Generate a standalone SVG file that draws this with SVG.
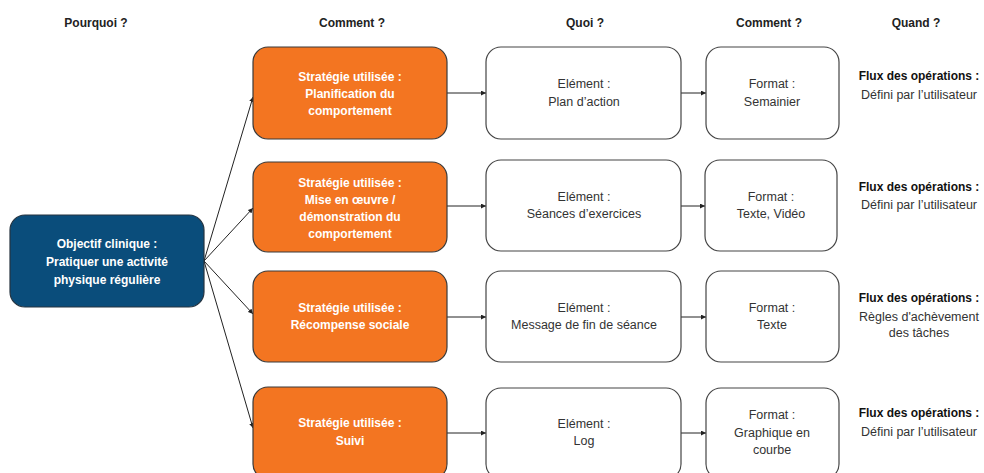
<svg xmlns="http://www.w3.org/2000/svg" width="984" height="473" viewBox="0 0 984 473">
<style>
text{font-family:"Liberation Sans",Arial,sans-serif;text-anchor:middle}
.h{font-size:12px;font-weight:bold;fill:#222}
.w{font-size:12px;font-weight:bold;fill:#fff}
.r{font-size:12.5px;fill:#333}
.rb{font-size:12px;font-weight:bold;fill:#111}
.blue{fill:#0a4d7b;stroke:#263440;stroke-width:1.2}
.or{fill:#f37521;stroke:#3a3a3a;stroke-width:1.2}
.wh{fill:#fff;stroke:#444;stroke-width:1.2}
.c{stroke:#222;stroke-width:1;fill:none;marker-end:url(#a)}
</style>
<defs>
<marker id="a" viewBox="0 0 6 6" refX="6" refY="3" markerWidth="5" markerHeight="5" orient="auto" markerUnits="userSpaceOnUse">
<path d="M0,0 L6,3 L0,6 z" fill="#222"/>
</marker>
</defs>
<rect width="984" height="473" fill="#fff"/>
<g id="headers">
<text class="h" x="96" y="27">Pourquoi ?</text>
<text class="h" x="352" y="27">Comment ?</text>
<text class="h" x="585" y="27">Quoi ?</text>
<text class="h" x="769" y="27">Comment ?</text>
<text class="h" x="916" y="27">Quand ?</text>
</g>
<g id="connectors">
<line class="c" x1="204" y1="261" x2="253" y2="97"/>
<line class="c" x1="204" y1="261" x2="253" y2="208"/>
<line class="c" x1="204" y1="261" x2="253" y2="314"/>
<line class="c" x1="204" y1="261" x2="253" y2="428"/>
<line class="c" x1="447" y1="93" x2="486" y2="93"/>
<line class="c" x1="447" y1="206" x2="486" y2="206"/>
<line class="c" x1="447" y1="317" x2="486" y2="317"/>
<line class="c" x1="447" y1="433" x2="486" y2="433"/>
<line class="c" x1="681" y1="93" x2="706" y2="93"/>
<line class="c" x1="681" y1="206" x2="705" y2="206"/>
<line class="c" x1="681" y1="317" x2="706" y2="317"/>
<line class="c" x1="681" y1="433" x2="706" y2="433"/>
</g>
<g id="objectif">
<rect class="blue" x="10" y="215" width="194" height="92" rx="15"/>
<text class="w" x="107" y="248">Objectif clinique :</text>
<text class="w" x="107" y="266">Pratiquer une activité</text>
<text class="w" x="107" y="284">physique régulière</text>
</g>
<g id="strat1">
<rect class="or" x="253" y="47" width="194" height="92" rx="15"/>
<text class="w" x="350" y="81">Stratégie utilisée :</text>
<text class="w" x="350" y="98">Planification du</text>
<text class="w" x="350" y="115">comportement</text>
</g>
<g id="strat2">
<rect class="or" x="253" y="162" width="194" height="90" rx="15"/>
<text class="w" x="350" y="187">Stratégie utilisée :</text>
<text class="w" x="350" y="204">Mise en œuvre /</text>
<text class="w" x="350" y="221">démonstration du</text>
<text class="w" x="350" y="238">comportement</text>
</g>
<g id="strat3">
<rect class="or" x="253" y="271" width="194" height="91" rx="15"/>
<text class="w" x="350" y="312">Stratégie utilisée :</text>
<text class="w" x="350" y="329">Récompense sociale</text>
</g>
<g id="strat4">
<rect class="or" x="253" y="387" width="194" height="92" rx="15"/>
<text class="w" x="350" y="427">Stratégie utilisée :</text>
<text class="w" x="350" y="445">Suivi</text>
</g>
<g id="elem1">
<rect class="wh" x="486" y="47" width="195" height="92" rx="15"/>
<text class="r" x="584" y="88">Elément :</text>
<text class="r" x="584" y="106">Plan d’action</text>
</g>
<g id="elem2">
<rect class="wh" x="486" y="160" width="195" height="91" rx="15"/>
<text class="r" x="584" y="201">Elément :</text>
<text class="r" x="584" y="218">Séances d’exercices</text>
</g>
<g id="elem3">
<rect class="wh" x="486" y="271" width="195" height="91" rx="15"/>
<text class="r" x="584" y="312">Elément :</text>
<text class="r" x="584" y="329">Message de fin de séance</text>
</g>
<g id="elem4">
<rect class="wh" x="486" y="388" width="195" height="91" rx="15"/>
<text class="r" x="584" y="428">Elément :</text>
<text class="r" x="584" y="445">Log</text>
</g>
<g id="format1">
<rect class="wh" x="706" y="47" width="133" height="92" rx="15"/>
<text class="r" x="772" y="88">Format :</text>
<text class="r" x="772" y="106">Semainier</text>
</g>
<g id="format2">
<rect class="wh" x="705" y="160" width="132" height="91" rx="15"/>
<text class="r" x="771" y="201">Format :</text>
<text class="r" x="771" y="218">Texte, Vidéo</text>
</g>
<g id="format3">
<rect class="wh" x="706" y="271" width="133" height="91" rx="15"/>
<text class="r" x="772" y="312">Format :</text>
<text class="r" x="772" y="329">Texte</text>
</g>
<g id="format4">
<rect class="wh" x="706" y="388" width="133" height="91" rx="15"/>
<text class="r" x="772" y="419">Format :</text>
<text class="r" x="772" y="437">Graphique en</text>
<text class="r" x="772" y="454">courbe</text>
</g>
<g id="quand1">
<text class="rb" x="919" y="80">Flux des opérations :</text>
<text class="r" x="919" y="99">Défini par l’utilisateur</text>
</g>
<g id="quand2">
<text class="rb" x="919" y="191">Flux des opérations :</text>
<text class="r" x="919" y="209">Défini par l’utilisateur</text>
</g>
<g id="quand3">
<text class="rb" x="919" y="302">Flux des opérations :</text>
<text class="r" x="919" y="321">Règles d'achèvement</text>
<text class="r" x="919" y="337">des tâches</text>
</g>
<g id="quand4">
<text class="rb" x="919" y="417">Flux des opérations :</text>
<text class="r" x="919" y="436">Défini par l’utilisateur</text>
</g>
</svg>
